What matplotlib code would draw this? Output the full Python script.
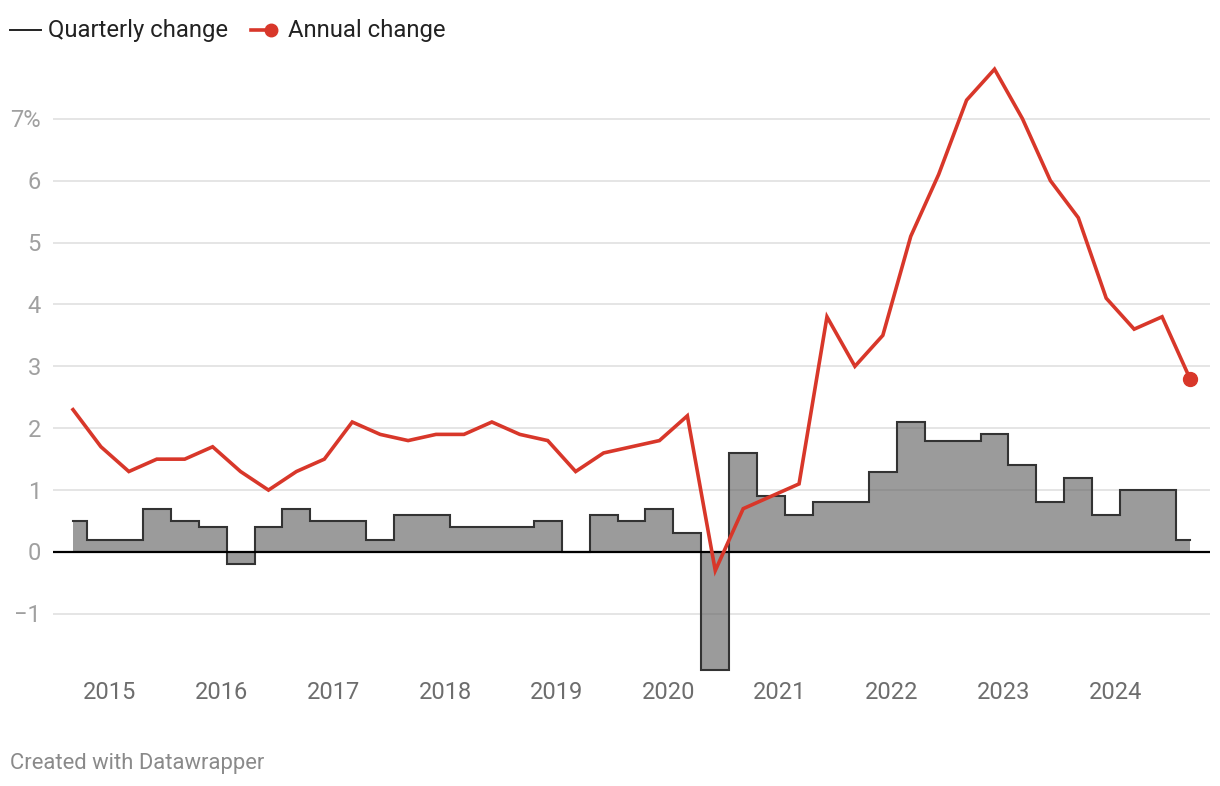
import numpy as np
import matplotlib
matplotlib.use("Agg")
import matplotlib.pyplot as plt
from matplotlib.lines import Line2D

plt.rcParams['font.family'] = ['Roboto', 'DejaVu Sans']

# quarterly observations, Q3 2014 .. Q3 2024 (as fractional years)
first_quarter = 2014.67
quarterly_change = [0.5, 0.2, 0.2, 0.7, 0.5, 0.4, -0.2, 0.4, 0.7, 0.5,
                    0.5, 0.2, 0.6, 0.6, 0.4, 0.4, 0.4, 0.5, 0.0, 0.6,
                    0.5, 0.7, 0.3, -1.9, 1.6, 0.9, 0.6, 0.8, 0.8, 1.3,
                    2.1, 1.8, 1.8, 1.9, 1.4, 0.8, 1.2, 0.6, 1.0, 1.0, 0.2]
annual_change = [2.3, 1.7, 1.3, 1.5, 1.5, 1.7, 1.3, 1.0, 1.3, 1.5,
                 2.1, 1.9, 1.8, 1.9, 1.9, 2.1, 1.9, 1.8, 1.3, 1.6,
                 1.7, 1.8, 2.2, -0.3, 0.7, 0.9, 1.1, 3.8, 3.0, 3.5,
                 5.1, 6.1, 7.3, 7.8, 7.0, 6.0, 5.4, 4.1, 3.6, 3.8, 2.8]
year_ticks = list(range(2015, 2025))
y_ticks = [-1, 0, 1, 2, 3, 4, 5, 6, 7]
y_labels = ["\u22121", "0", "1", "2", "3", "4", "5", "6", "7%"]

t = first_quarter + 0.25 * np.arange(len(quarterly_change))
qc = np.array(quarterly_change)

W, H = 1220, 786
fig = plt.figure(figsize=(W / 100, H / 100), dpi=100)
ax_l, ax_r, ax_t, ax_b = 53, 1210, 60, 680
ax = fig.add_axes([ax_l / W, 1 - ax_b / H, (ax_r - ax_l) / W, (ax_b - ax_t) / H])

px_per_year = (1190 - 73) / 10.0
ax.set_xlim(t[0] - 20 / px_per_year, t[-1] + 20 / px_per_year)
ax.set_ylim(-(ax_b - 552) / 61.9, (552 - ax_t) / 61.9)

# grid
for y in y_ticks:
    if y != 0:
        ax.axhline(y, color='#e3e3e3', lw=1.3, zorder=1)

# quarterly steps (centred on each quarter)
edges = np.concatenate([[t[0]], (t[:-1] + t[1:]) / 2, [t[-1]]])
xs = np.repeat(edges, 2)[1:-1]
ys = np.repeat(qc, 2)
ax.fill_between(xs, 0, ys, color='#5e5e5e', alpha=0.62, lw=0, zorder=2)
ax.plot(xs, ys, color='#333333', lw=1.5, zorder=3, solid_joinstyle='miter')

ax.axhline(0, color='black', lw=1.6, zorder=4)

# annual line
ax.plot(t, annual_change, color='#d8372a', lw=2.6, zorder=5, solid_joinstyle='miter')
ax.plot(t[-1], annual_change[-1], 'o', color='#d8372a', ms=10, zorder=6)

for s in ax.spines.values():
    s.set_visible(False)
ax.set_xticks(year_ticks)
ax.set_xticklabels([str(y) for y in year_ticks], fontsize=17, color='#6d6d6d')
ax.tick_params(axis='x', length=0, pad=1)
ax.set_yticks([])
for y, lab in zip(y_ticks, y_labels):
    ax.text(41 / W, 1 - (554 - 61.9 * y) / H, lab, transform=fig.transFigure,
            ha='right', va='center', fontsize=17, color='#a0a0a0')

# legend
fig.add_artist(Line2D([10 / W, 41 / W], [1 - 30 / H] * 2, color='#222222', lw=1.4))
fig.text(48 / W, 1 - 31 / H, "Quarterly change", fontsize=17.2, color='#222222',
         va='center', ha='left')
fig.add_artist(Line2D([251 / W, 270 / W], [1 - 30 / H] * 2, color='#d8372a', lw=2.6))
fig.add_artist(Line2D([271 / W], [1 - 30 / H], marker='o', ms=9, color='#d8372a'))
fig.text(288 / W, 1 - 31 / H, "Annual change", fontsize=17.2, color='#222222',
         va='center', ha='left')

fig.text(10 / W, 1 - 763 / H, "Created with Datawrapper", fontsize=15.8,
         color='#8a8a8a', va='center', ha='left')

fig.savefig("out.png", dpi=100)
